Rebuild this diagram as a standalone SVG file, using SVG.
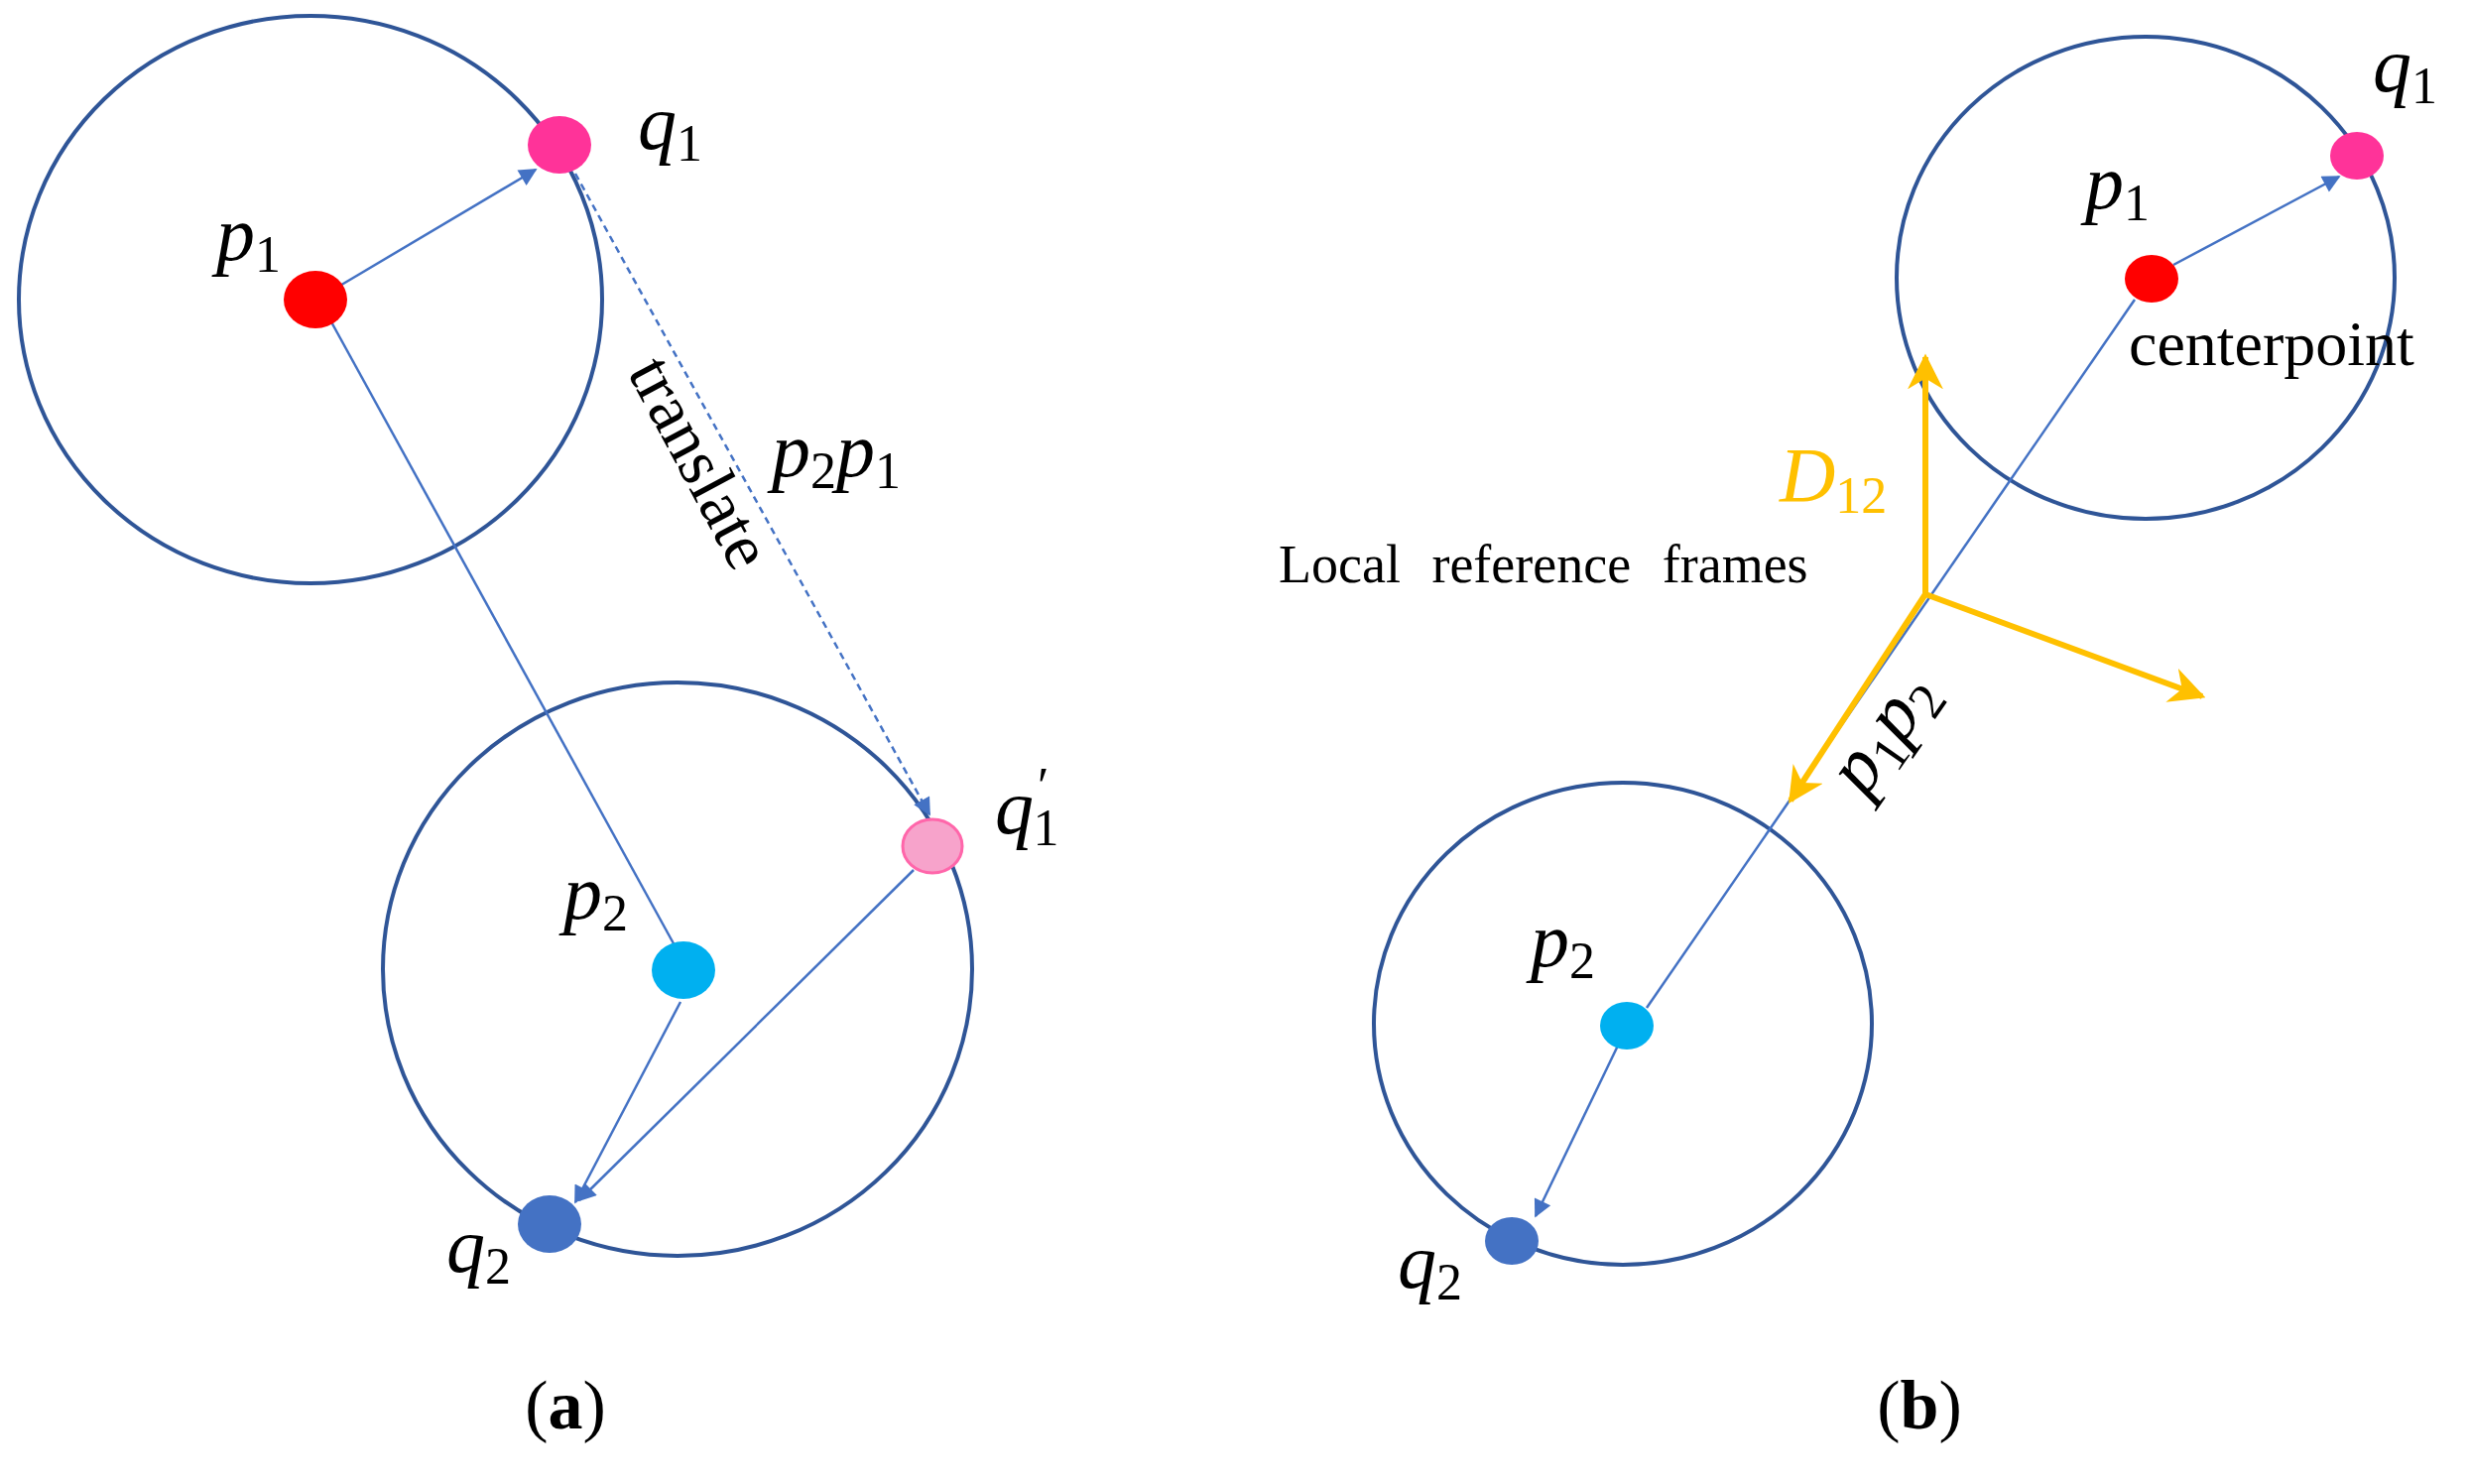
<svg xmlns="http://www.w3.org/2000/svg" width="2490" height="1496" viewBox="0 0 2490 1496">
<style>
.c{fill:none;stroke:#2f5597;stroke-width:4}
.l{stroke:#4472c4;stroke-width:2.5;fill:none}
.y{stroke:#ffc000;stroke-width:6;fill:none}
.m{font-family:"Liberation Serif",serif;font-style:italic;font-size:78px;fill:#000}
.s{font-size:52px;font-style:normal}
.t{font-family:"Liberation Serif",serif;font-size:64px;fill:#000}
.cap{font-family:"Liberation Serif",serif;font-size:70px;fill:#000;text-anchor:middle}
</style>
<defs>
<marker id="ab" viewBox="0 0 10 10" refX="9" refY="5" markerWidth="22" markerHeight="18" markerUnits="userSpaceOnUse" orient="auto"><path d="M0,0L10,5L0,10z" fill="#4472c4"/></marker>
<marker id="ay" viewBox="0 0 10 10" refX="9" refY="5" markerWidth="6" markerHeight="6" orient="auto"><path d="M0,0L10,5L0,10L3,5z" fill="#ffc000"/></marker>
</defs>
<g id="circles">
<ellipse class="c" cx="313" cy="302" rx="294" ry="286"/>
<ellipse class="c" cx="683" cy="977" rx="297" ry="289"/>
<ellipse class="c" cx="2163" cy="280" rx="251" ry="243"/>
<ellipse class="c" cx="1636" cy="1032" rx="251" ry="243"/>
</g>
<g id="connectors">
<line class="l" x1="341" y1="289" x2="540" y2="171" marker-end="url(#ab)"/>
<line class="l" x1="326" y1="310" x2="680" y2="953"/>
<line class="l" x1="580" y1="175" x2="937" y2="821" stroke-dasharray="7,5" marker-end="url(#ab)"/>
<line class="l" x1="686" y1="1010" x2="580" y2="1212" marker-end="url(#ab)"/>
<line class="l" x1="921" y1="877" x2="584" y2="1210" marker-end="url(#ab)"/>
<line class="l" x1="2191" y1="267" x2="2358" y2="178" marker-end="url(#ab)"/>
<line class="l" x1="2152" y1="302" x2="1660" y2="1016"/>
<line class="l" x1="1631" y1="1054" x2="1548" y2="1226" marker-end="url(#ab)"/>
<line class="y" x1="1941" y1="599" x2="1941" y2="360" marker-end="url(#ay)"/>
<line class="y" x1="1941" y1="599" x2="2220" y2="702" marker-end="url(#ay)"/>
<line class="y" x1="1941" y1="599" x2="1805" y2="807" marker-end="url(#ay)"/>
</g>
<g id="nodes-a">
<ellipse id="p1a" cx="318" cy="302" rx="32" ry="29" fill="#ff0000"/>
<ellipse id="q1a" cx="564" cy="146" rx="32" ry="29" fill="#ff3399"/>
<ellipse id="q1pa" cx="940" cy="853" rx="30" ry="27" fill="#f7a3cb" stroke="#ff66aa" stroke-width="3"/>
<ellipse id="p2a" cx="689" cy="978" rx="32" ry="29" fill="#00b0f0"/>
<ellipse id="q2a" cx="554" cy="1234" rx="32" ry="29" fill="#4472c4"/>
</g>
<g id="nodes-b">
<ellipse id="p1b" cx="2169" cy="281" rx="27" ry="24" fill="#ff0000"/>
<ellipse id="q1b" cx="2376" cy="157" rx="27" ry="24" fill="#ff3399"/>
<ellipse id="p2b" cx="1640" cy="1034" rx="27" ry="24" fill="#00b0f0"/>
<ellipse id="q2b" cx="1524" cy="1251" rx="27" ry="24" fill="#4472c4"/>
</g>
<g id="labels">
<text class="m" x="218" y="262">p<tspan class="s" dy="12">1</tspan></text>
<text class="m" x="643" y="150">q<tspan class="s" dy="12">1</tspan></text>
<text class="m" x="778" y="480">p<tspan class="s" dy="12">2</tspan><tspan dy="-12">p</tspan><tspan class="s" dy="12">1</tspan></text>
<text class="m" x="1003" y="840">q<tspan class="s" dx="4" dy="-30">′</tspan><tspan class="s" dx="-16" dy="42">1</tspan></text>
<text class="m" x="568" y="926">p<tspan class="s" dy="12">2</tspan></text>
<text class="m" x="450" y="1282">q<tspan class="s" dy="12">2</tspan></text>
<text class="t" transform="translate(632,375) rotate(62)" style="font-size:68px">translate</text>
<text class="cap" x="570" y="1440">(<tspan font-weight="bold">a</tspan>)</text>
<text class="m" x="2392" y="92">q<tspan class="s" dy="12">1</tspan></text>
<text class="m" x="2102" y="210">p<tspan class="s" dy="12">1</tspan></text>
<text class="t" x="2146" y="368">centerpoint</text>
<text class="m" x="1794" y="505" style="fill:#ffc000">D<tspan class="s" dy="12">12</tspan></text>
<text class="t" x="1289" y="587" style="font-size:54px;word-spacing:18px">Local reference frames</text>
<text class="m" transform="translate(1880,805) rotate(-55)">p<tspan class="s" dy="12">1</tspan><tspan dy="-12">p</tspan><tspan class="s" dy="12">2</tspan></text>
<text class="m" x="1543" y="974">p<tspan class="s" dy="12">2</tspan></text>
<text class="m" x="1409" y="1298">q<tspan class="s" dy="12">2</tspan></text>
<text class="cap" x="1935" y="1440">(<tspan font-weight="bold">b</tspan>)</text>
</g>
</svg>
